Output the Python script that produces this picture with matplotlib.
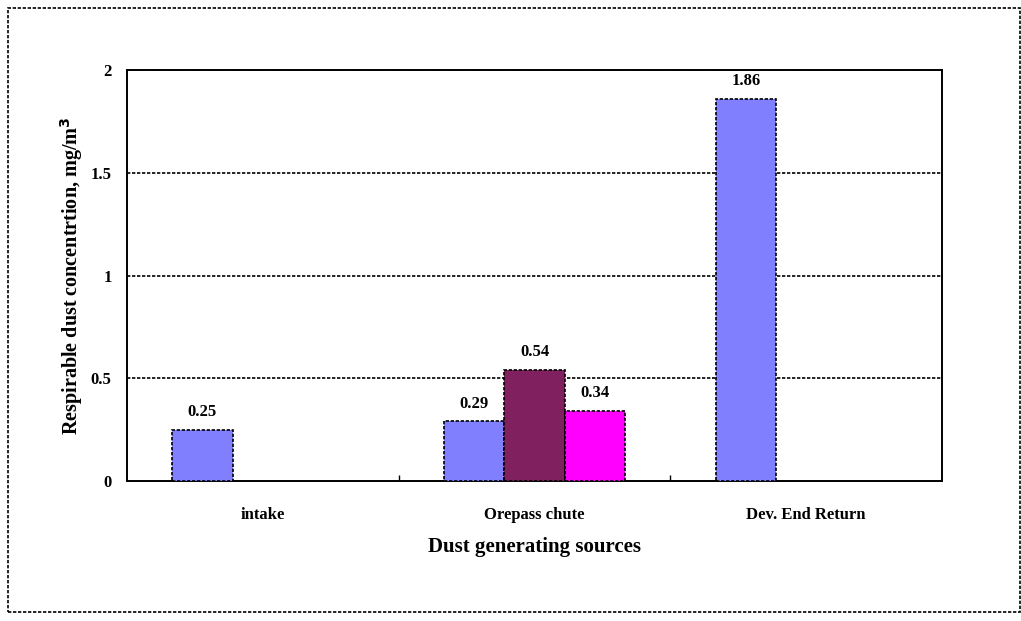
import numpy as np
import matplotlib
matplotlib.use('Agg')
import matplotlib.pyplot as plt
from matplotlib.patches import Rectangle

categories = ['intake', 'Orepass chute', 'Dev. End Return']
series_1 = [0.25, 0.29, 1.86]
series_2 = [np.nan, 0.54, np.nan]
series_3 = [np.nan, 0.34, np.nan]
colors = ['#8080FF', '#80205E', '#FF00FF']
y_ticks = [0, 0.5, 1, 1.5, 2]
y_tick_labels = ['0', '0.5', '1', '1.5', '2']

plt.rcParams['font.family'] = ['Liberation Serif', 'DejaVu Serif']
plt.rcParams['font.weight'] = 'bold'

dash = (0, (2, 1))

fig = plt.figure(figsize=(10.21, 6.21), dpi=100)
ax = fig.add_axes([0.1244, 0.2254, 0.7982, 0.6618])

# outer frame of the chart
fig.patches.append(Rectangle((0.0078, 0.0145), 0.991, 0.9726, transform=fig.transFigure,
                             fill=False, edgecolor='black', linewidth=1.2, linestyle=dash))

x = np.arange(len(categories))
width = 1 / 4.5
for i, (vals, c) in enumerate(zip([series_1, series_2, series_3], colors)):
    pos = x + (i - 1) * width
    ax.bar(pos, vals, width=width, color=c, edgecolor='black',
           linewidth=1.2, linestyle=dash, zorder=3)
    for p, v in zip(pos, vals):
        if not np.isnan(v):
            ax.annotate(f'{v:.2f}', (p, v), xytext=(0, 7), textcoords='offset points',
                        ha='center', va='bottom', fontsize=12, fontweight='bold')

ax.set_xlim(-0.5, 2.5)
ax.set_ylim(0, 2)
ax.set_yticks(y_ticks)
ax.set_yticklabels(y_tick_labels, fontsize=12, fontweight='bold')
ax.tick_params(axis='y', length=0, pad=11)

ax.set_xticks(x)
ax.set_xticklabels(categories, fontsize=12, fontweight='bold')
ax.tick_params(axis='x', length=0, pad=19)
# category separator ticks
ax.set_xticks([0.5, 1.5], minor=True)
ax.tick_params(axis='x', which='minor', direction='in', length=4, width=1)

for yv in y_ticks[1:]:
    ax.axhline(yv, color='black', linewidth=1.2, linestyle=dash, zorder=1)
for s in ax.spines.values():
    s.set_linestyle(dash)
    s.set_linewidth(1.4)

ax.set_xlabel('Dust generating sources', fontsize=15, fontweight='bold', labelpad=10)
ax.set_ylabel('Respirable dust concentrtion, mg/m$^\\mathbf{3}$', fontsize=14.5,
              fontweight='bold')
ax.yaxis.set_label_coords(-0.052, 0.5)

fig.savefig('out.png', dpi=100)
